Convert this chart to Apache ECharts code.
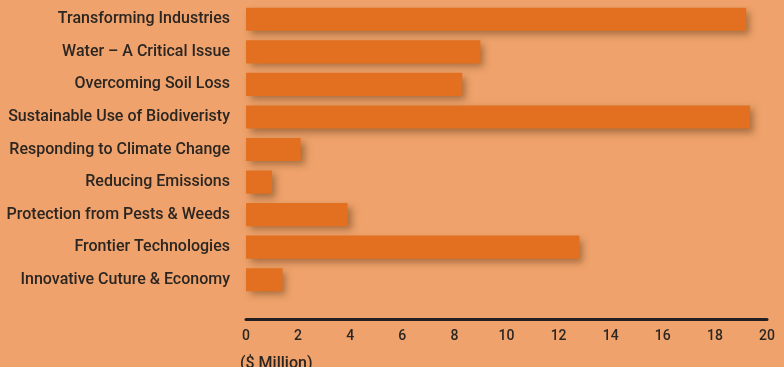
<!DOCTYPE html>
<html>
<head>
<meta charset="utf-8">
<script src="https://cdn.jsdelivr.net/npm/echarts@6/dist/echarts.min.js"></script>
<style>
html,body{margin:0;padding:0;background:#EFA26B;}
#chart{width:784px;height:367px;}
</style>
</head>
<body>
<div id="chart"></div>
<script>
// programme areas, top to bottom
var categories = [
	'Transforming Industries',
	'Water \u2013 A Critical Issue',
	'Overcoming Soil Loss',
	'Sustainable Use of Biodiveristy',
	'Responding to Climate Change',
	'Reducing Emissions',
	'Protection from Pests & Weeds',
	'Frontier Technologies',
	'Innovative Cuture & Economy'
];
// $ Million
var values = [19.2, 9.0, 8.3, 19.35, 2.1, 1.0, 3.9, 12.8, 1.4];
var xTicks = [0, 2, 4, 6, 8, 10, 12, 14, 16, 18, 20];

var COLOR = {
	BG: '#EFA26B',
	BAR: '#E27020',
	TEXT: '#2B2622'
};

var FONT = 'Roboto';

var myChart = echarts.init(document.getElementById('chart'));
myChart.setOption({
	backgroundColor: COLOR.BG,
	animation: false,
	title: {
		text: '($ Million)',
		left: 235,
		top: 351,
		textStyle: {
			color: COLOR.TEXT,
			fontFamily: FONT,
			fontWeight: 500,
			fontSize: 16
		}
	},
	grid: {
		left: 246,
		right: 17,
		top: 3,
		bottom: 71,
		containLabel: false
	},
	xAxis: {
		type: 'value',
		min: xTicks[0],
		max: xTicks[xTicks.length - 1],
		interval: 2,
		offset: 23,
		splitLine: { show: false },
		axisTick: { show: false },
		axisLine: {
			show: true,
			lineStyle: { color: '#231F20', width: 3 }
		},
		axisLabel: {
			color: COLOR.TEXT,
			fontFamily: FONT,
			fontWeight: 500,
			fontSize: 14,
			margin: 10
		}
	},
	yAxis: {
		type: 'category',
		inverse: true,
		data: categories,
		axisLine: { show: false },
		axisTick: { show: false },
		axisLabel: {
			color: COLOR.TEXT,
			fontFamily: FONT,
			fontWeight: 500,
			fontSize: 16,
			margin: 16
		}
	},
	series: [
		{
			type: 'bar',
			data: values,
			barCategoryGap: '29%',
			itemStyle: {
				color: COLOR.BAR,
				shadowColor: 'rgba(110,70,30,0.55)',
				shadowBlur: 7,
				shadowOffsetX: 4,
				shadowOffsetY: 4
			}
		}
	]
});
</script>
</body>
</html>
